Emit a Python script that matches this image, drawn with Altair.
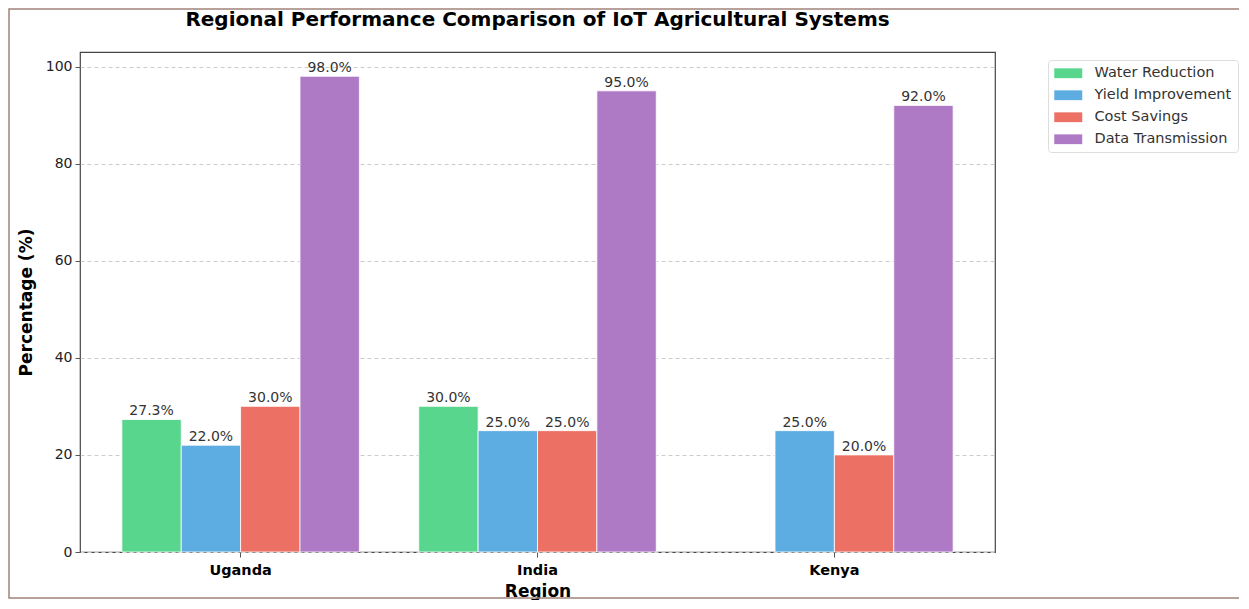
import altair as alt
import pandas as pd

regions = ["Uganda", "India", "Kenya"]
series = ["Water Reduction", "Yield Improvement", "Cost Savings", "Data Transmission"]
water = [27.3, 30.0, None]
yield_imp = [22.0, 25.0, 25.0]
cost = [30.0, 25.0, 20.0]
data_tx = [98.0, 95.0, 92.0]
colors = ["#58d68d", "#5dade2", "#ec7063", "#af7ac5"]
y_ticks = [0, 20, 40, 60, 80, 100]
title_text = "Regional Performance Comparison of IoT Agricultural Systems"

rows = []
for i, r in enumerate(regions):
    for s, vals in zip(series, [water, yield_imp, cost, data_tx]):
        v = vals[i]
        if v is not None:
            rows.append({"Region": r, "Metric": s, "Value": v, "Label": f"{v:.1f}%"})
df = pd.DataFrame(rows)

FONT = "DejaVu Sans"

x = alt.X("Region:N", sort=regions,
          scale=alt.Scale(paddingInner=0.2, paddingOuter=0.141),
          axis=alt.Axis(title="Region", labelAngle=0, labelFontWeight="bold",
                        labelFontSize=14.5, labelColor="#000", titleFontSize=17,
                        titleFontWeight="bold", titleColor="#000", titlePadding=7,
                        tickColor="#555", domain=False, labelPadding=6))
xo = alt.XOffset("Metric:N", sort=series, scale=alt.Scale(domain=series, paddingInner=0, paddingOuter=0))
y = alt.Y("Value:Q", scale=alt.Scale(domain=[0, 103], nice=False),
          axis=alt.Axis(title="Percentage (%)", values=y_ticks, labelFontSize=14,
                        labelColor="#222", titleFontSize=17, titleFontWeight="bold",
                        titleColor="#000", titlePadding=10, gridDash=[4, 3],
                        gridColor="#cccccc", grid=True, tickColor="#555", domain=False,
                        labelPadding=3))

bars = alt.Chart(df).mark_bar(stroke="white", strokeWidth=0.8).encode(
    x=x, xOffset=xo, y=y,
    color=alt.Color("Metric:N", sort=series,
                    scale=alt.Scale(domain=series, range=colors),
                    legend=alt.Legend(title=None, orient="none", legendX=968, legendY=8,
                                      labelFontSize=14.5, labelColor="#333", labelFont=FONT,
                                      symbolType="M-2,-0.7L2,-0.7L2,0.7L-2,0.7Z",
                                      symbolSize=196, symbolOpacity=1, symbolStrokeWidth=0,
                                      symbolOffset=7, rowPadding=7, padding=6,
                                      strokeColor="#dddddd", fillColor="white",
                                      cornerRadius=3, labelOffset=19)),
)

texts = alt.Chart(df).mark_text(baseline="bottom", dy=-1, fontSize=14, color="#333", font=FONT).encode(
    x=x, xOffset=xo, y=y, text="Label:N"
)

one = pd.DataFrame({"t": [title_text]})
title = alt.Chart(one).mark_text(fontSize=20, fontWeight="bold", color="#000", font=FONT,
                                 baseline="alphabetic", align="center").encode(
    x=alt.value(457.5), y=alt.value(-26), text="t:N"
)

frame = alt.Chart(one).mark_rect(fill=None, stroke="#a0837a", strokeWidth=1.5).encode(
    x=alt.value(-71), x2=alt.value(1164), y=alt.value(-43), y2=alt.value(546)
)

chart = alt.layer(bars, texts, title, frame).properties(
    width=915, height=500,
    autosize=alt.AutoSizeParams(type="none"),
    padding={"left": 72, "top": 44, "right": 244, "bottom": 48},
).configure(font=FONT).configure_view(stroke="#444", strokeWidth=1.2).configure_axis(
    labelFont=FONT, titleFont=FONT
)

chart.save("out.html", embed_options={"renderer": "svg", "actions": False})
